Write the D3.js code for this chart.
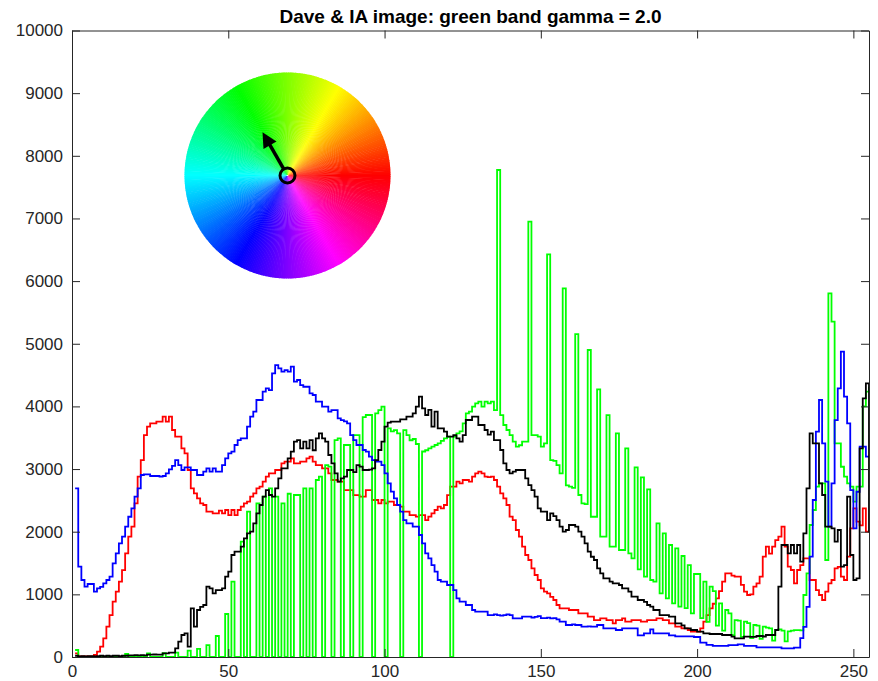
<!DOCTYPE html>
<html><head><meta charset="utf-8">
<script src="https://cdn.jsdelivr.net/npm/d3@7"></script>
<style>
body{margin:0;background:#fff}
svg{display:block}
text{font-family:"Liberation Sans",Arial,Helvetica,sans-serif}
</style>
</head><body>
<svg id="chart" width="878" height="681"></svg>
<script>
const titleText = "Dave & IA image: green band gamma = 2.0";
const xTicks = [0, 50, 100, 150, 200, 250];
const yTicks = [0, 1000, 2000, 3000, 4000, 5000, 6000, 7000, 8000, 9000, 10000];
const binStart = 1;            // first intensity bin plotted (x = 1 ... 256)
const wheelHueDeg = 120;       // arrow direction on the hue wheel (green)

const redCounts = [
59,10,10,10,10,10,32,85,165,298,
484,670,883,1042,1202,1388,1655,1920,2080,2453,
2878,3144,3543,3676,3729,3729,3756,3756,3836,3756,
3836,3623,3517,3517,3330,3250,2985,2692,2612,2532,
2453,2426,2320,2320,2293,2293,2337,2293,2346,2266,
2346,2266,2346,2400,2453,2480,2559,2612,2692,2719,
2798,2878,2931,2931,2985,2985,3091,3117,3117,3171,
3091,3091,3117,3117,3171,3197,3117,3064,3064,3011,
3011,2931,2825,2825,2798,2798,2665,2665,2665,2585,
2585,2559,2559,2665,2665,2506,2506,2453,2506,2453,
2479,2479,2426,2426,2400,2319,2319,2266,2266,2240,
2266,2266,2186,2240,2293,2346,2400,2373,2426,2585,
2718,2718,2798,2772,2825,2825,2798,2878,2931,2958,
2930,2878,2870,2878,2825,2718,2612,2532,2426,2240,
2186,2027,1921,1762,1628,1548,1415,1309,1229,1096,
1042,1016,960,910,830,777,777,777,750,750,
750,697,697,697,644,644,590,590,617,617,
590,590,537,590,590,617,564,564,590,590,
590,564,564,590,590,590,617,617,590,590,
537,537,484,484,458,458,431,404,404,404,
458,564,670,777,850,937,1050,1202,1335,1335,
1300,1282,1282,1150,1042,990,1000,1122,1176,1282,
1601,1761,1650,1761,1867,1921,2080,1761,1442,1389,
1176,1389,1468,1575,1575,1229,1229,1069,990,910,
1043,1176,1229,1415,1440,1282,1229,1601,2054,2373,
2160,2100,2373,2000,2000,2000];

const greenCounts = [
112,0,0,0,0,0,0,0,0,0,
0,0,0,0,0,0,48,0,0,0,
0,0,0,59,0,0,0,0,60,0,
0,0,69,0,0,0,101,0,0,130,
0,0,190,0,0,335,0,0,686,0,
1202,0,0,1840,0,2319,0,0,2453,0,
2559,0,2692,0,2559,0,2453,0,2606,0,
2586,2586,0,2690,0,2690,0,2825,2880,0,
3064,3040,0,3463,3490,0,3384,3384,0,3543,
3543,0,3830,3863,3863,0,3889,3940,3995,0,
3650,3600,3620,3570,0,3620,3540,3460,3480,3400,
0,3280,3300,3330,3357,3384,3410,3450,3490,3517,
0,3517,3570,3600,3729,3889,3916,3995,4049,4075,
3995,4075,4049,4075,3942,7773,3862,3703,3623,3543,
3437,3357,3380,3437,3437,6948,3543,3543,3517,3357,
3410,6427,3144,3130,3064,2931,5884,2740,2718,2700,
5155,2586,2453,2440,4900,2239,2239,4272,1921,1921,
3862,1761,1761,3570,1708,1708,3330,1655,1575,3027,
1400,2868,1282,2676,1229,1202,2133,1016,1974,936,
1788,856,1735,803,1612,780,1468,697,1325,1325,
620,1202,560,1122,1050,500,857,420,750,697,
350,590,580,320,564,540,300,511,500,290,
484,470,458,260,431,440,420,250,410,420,
430,430,426,990,1335,2107,2346,2718,2772,2772,
1548,5805,5352,3410,3410,3037,2878,2772,2718,2479,
2718,2718,4000,4235,4300,4300];

const blueCounts = [
2692,1442,1229,1122,1165,1165,1042,1096,1120,1176,
1229,1282,1495,1655,1815,1920,2080,2239,2373,2559,
2692,2905,2915,2915,2889,2889,2889,2880,2889,2932,
2996,3050,3144,3064,2985,3027,3027,2985,2985,2905,
2905,2958,3011,2958,3011,2958,2958,3064,3171,3251,
3277,3384,3463,3490,3490,3676,3836,3916,4102,4102,
4235,4288,4261,4528,4660,4607,4554,4580,4554,4634,
4394,4421,4341,4314,4314,4208,4182,4075,4075,3995,
3995,3916,3942,3942,3809,3782,3760,3729,3543,3463,
3384,3384,3304,3277,3197,3144,3117,3117,3064,2931,
2772,2639,2533,2426,2319,2186,2134,2134,2080,2080,
1947,1815,1655,1575,1468,1362,1229,1202,1202,1149,
1149,1069,937,883,883,830,830,750,723,723,
723,723,670,670,680,670,660,670,680,670,
617,617,617,644,644,644,630,640,654,620,
620,630,617,620,600,564,564,511,511,520,
511,511,484,484,490,484,484,511,511,458,
458,458,458,431,431,458,458,458,458,458,
346,346,378,378,442,378,378,378,378,378,
346,346,330,330,330,330,330,330,319,319,
229,229,192,192,176,176,176,176,176,190,
190,190,200,200,176,176,176,176,154,154,
154,154,154,154,154,154,138,138,138,138,
150,150,300,480,800,1601,2506,3596,4102,3410,
2798,2080,2772,3782,4288,4873,4155,3730,2665,2054,
2638,3357,3357,3197,3197,3197];

const lumaCounts = [
20,10,15,10,15,15,10,15,20,15,
20,15,20,20,15,20,20,27,27,30,
27,30,27,37,37,40,37,37,59,59,
69,69,138,245,351,377,165,777,484,750,
800,830,1122,1096,1016,1069,1069,1096,1282,1362,
1628,1681,1681,1761,1894,1974,2000,2133,2293,2426,
2559,2665,2586,2559,2692,2852,3011,3011,3171,3277,
3437,3463,3330,3437,3330,3463,3300,3490,3570,3490,
3437,3224,3091,2931,2798,2850,2878,2985,2985,2950,
3064,3040,2985,2985,2990,3010,3144,3304,3437,3676,
3740,3756,3756,3756,3793,3793,3836,3836,3890,3996,
4155,3969,3863,3943,3676,3916,3650,3650,3597,3517,
3517,3540,3490,3437,3543,3783,3783,3836,3836,3703,
3703,3623,3550,3597,3463,3463,3304,3091,2985,2931,
2958,2985,2985,2985,2852,2745,2665,2559,2373,2319,
2319,2186,2293,2250,2186,2080,2000,2027,2107,2107,
2080,2000,1921,1815,1681,1600,1548,1415,1335,1255,
1255,1202,1176,1176,1149,1096,1096,1042,963,963,
910,910,880,830,803,750,750,670,670,670,
644,644,537,537,505,458,458,431,431,404,
404,378,378,367,367,367,367,351,351,351,
324,298,298,298,324,324,320,320,335,335,
327,351,351,351,431,1122,1788,1788,1655,1788,
1655,1788,1521,1974,2692,3570,3410,3410,2772,2586,
2080,2080,2054,1840,2027,1442,1468,2559,1628,1229,
1255,3330,4128,4368,2000,2000];

const seriesList = [
  {name: "red", values: redCounts, color: "#ff0000"},
  {name: "green", values: greenCounts, color: "#00ff00"},
  {name: "blue", values: blueCounts, color: "#0000ff"},
  {name: "black", values: lumaCounts, color: "#000000"}
];

const svg = d3.select("#chart");
const L = 72, R = 869, T = 30.5, B = 657;
const x = d3.scaleLinear().domain([0, 255]).range([L, R]);
const y = d3.scaleLinear().domain([0, 10000]).range([B, T]);
const axisColor = "#262626";

svg.append("rect").attr("width", 878).attr("height", 681).attr("fill", "#fff");

svg.append("defs").append("clipPath").attr("id", "plotClip")
  .append("rect").attr("x", L).attr("y", T - 2).attr("width", R - L).attr("height", B - T + 4);

// series
const line = d3.line()
  .x((d, i) => x(binStart + i))
  .y(d => y(d))
  .curve(d3.curveStepAfter);

const gSeries = svg.append("g").attr("clip-path", "url(#plotClip)");
seriesList.forEach(s => {
  gSeries.append("path")
    .datum(s.values)
    .attr("d", line)
    .attr("fill", "none")
    .attr("stroke", s.color)
    .attr("stroke-width", 1.8)
    .attr("stroke-linejoin", "miter");
});

// axes
const fontSize = 17;
const fmt = d3.format("d");
function styleAxis(g) {
  g.selectAll("path.domain").attr("stroke", axisColor).attr("stroke-width", 1);
  g.selectAll(".tick line").attr("stroke", axisColor).attr("stroke-width", 1);
  g.selectAll(".tick text").attr("fill", axisColor).attr("font-size", fontSize)
    .attr("font-family", "'Liberation Sans', Arial, Helvetica, sans-serif");
}
svg.append("g").attr("transform", `translate(0,${B})`)
  .call(d3.axisBottom(x).tickValues(xTicks).tickFormat(fmt).tickSize(-8).tickSizeOuter(0).tickPadding(8))
  .call(styleAxis);
svg.append("g").attr("transform", `translate(0,${T})`)
  .call(d3.axisTop(x).tickValues(xTicks).tickSize(-8).tickSizeOuter(0).tickFormat(""))
  .call(styleAxis);
svg.append("g").attr("transform", `translate(${L},0)`)
  .call(d3.axisLeft(y).tickValues(yTicks).tickFormat(fmt).tickSize(-8).tickSizeOuter(0).tickPadding(9))
  .call(styleAxis);
svg.append("g").attr("transform", `translate(${R},0)`)
  .call(d3.axisRight(y).tickValues(yTicks).tickSize(-8).tickSizeOuter(0).tickFormat(""))
  .call(styleAxis);

// title
svg.append("text")
  .attr("x", (L + R) / 2).attr("y", 23)
  .attr("text-anchor", "middle")
  .attr("font-size", 19).attr("font-weight", "bold")
  .attr("fill", "#000")
  .text(titleText);

// hue wheel
const cx = 287.5, cy = 175.5, rad = 103;
const wheel = svg.append("g").attr("transform", `translate(${cx},${cy})`);
const hues = d3.range(0, 360, 1);
const arc = d3.arc().innerRadius(0).outerRadius(rad);
const toRad = Math.PI / 180;
wheel.selectAll("path.wedge").data(hues).join("path")
  .attr("class", "wedge")
  .attr("d", h => arc({startAngle: (90 - h - 0.7) * toRad, endAngle: (90 - h + 0.7) * toRad}))
  .attr("fill", h => d3.hsl(h, 1, 0.5).toString())
  .attr("stroke", "none");

// arrow
const ang = wheelHueDeg * toRad;
const ux = Math.cos(ang), uy = -Math.sin(ang);
const px = -uy, py = ux;
const tipLen = 50, headLen = 15, headHalf = 7.5, ringR = 7.5;
wheel.append("line")
  .attr("x1", ux * ringR).attr("y1", uy * ringR)
  .attr("x2", ux * (tipLen - headLen + 2)).attr("y2", uy * (tipLen - headLen + 2))
  .attr("stroke", "#000").attr("stroke-width", 3.5);
const bx = ux * (tipLen - headLen), by = uy * (tipLen - headLen);
wheel.append("path")
  .attr("d", `M${ux * tipLen},${uy * tipLen}L${bx + px * headHalf},${by + py * headHalf}L${bx - px * headHalf},${by - py * headHalf}Z`)
  .attr("fill", "#000");
wheel.append("circle").attr("r", ringR).attr("fill", "none")
  .attr("stroke", "#000").attr("stroke-width", 3);
</script>
</body></html>
